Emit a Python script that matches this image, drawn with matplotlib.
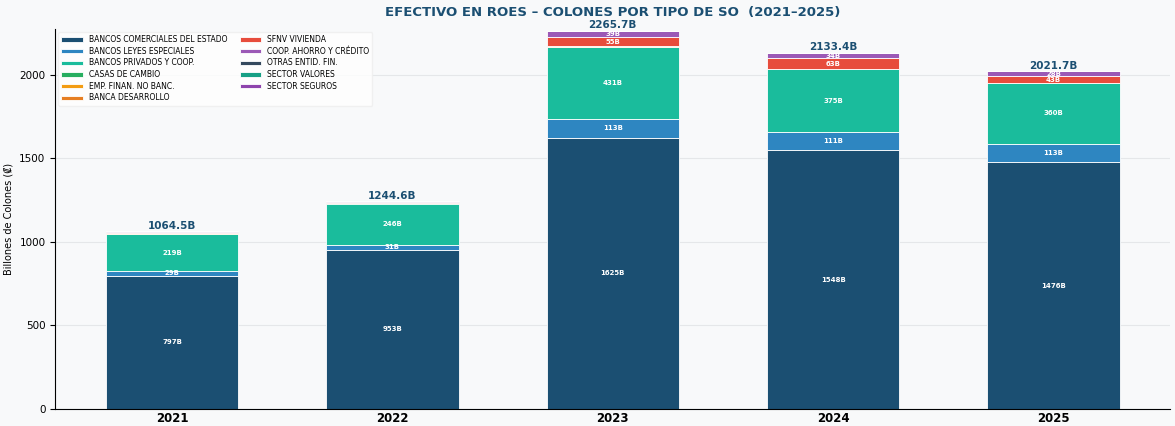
import numpy as np
import matplotlib.pyplot as plt

# Datos (billones de colones)
years = ['2021', '2022', '2023', '2024', '2025']
categories = ['BANCOS COMERCIALES DEL ESTADO', 'BANCOS LEYES ESPECIALES', 'BANCOS PRIVADOS Y COOP.',
              'CASAS DE CAMBIO', 'EMP. FINAN. NO BANC.', 'BANCA DESARROLLO', 'SFNV VIVIENDA',
              'COOP. AHORRO Y CRÉDITO', 'OTRAS ENTID. FIN.', 'SECTOR VALORES', 'SECTOR SEGUROS']
colors = ['#1b4f72', '#2e86c1', '#1abc9c', '#27ae60', '#f39c12', '#e67e22', '#e74c3c',
          '#9b59b6', '#34495e', '#16a085', '#8e44ad']

bancos_estado = [797, 953, 1625, 1548, 1476]
bancos_leyes = [29, 31, 113, 111, 113]
bancos_privados = [219, 246, 431, 375, 360]
casas_cambio = [4, 3, 1, 0.8, 0.6]
emp_finan = [1.5, 1, 0.5, 0.5, 0.4]
banca_desarrollo = [1, 0.8, 0.5, 0.5, 0.3]
sfnv_vivienda = [5, 3, 55, 63, 43]
coop_ahorro = [7, 6, 39, 34, 28]
otras_entid = [0.5, 0.4, 0.3, 0.3, 0.2]
sector_valores = [0.3, 0.2, 0.2, 0.2, 0.1]
sector_seguros = [0.2, 0.2, 0.2, 0.1, 0.1]
totales = [1064.5, 1244.6, 2265.7, 2133.4, 2021.7]

series = [bancos_estado, bancos_leyes, bancos_privados, casas_cambio, emp_finan, banca_desarrollo,
          sfnv_vivienda, coop_ahorro, otras_entid, sector_valores, sector_seguros]

fig, ax = plt.subplots(figsize=(11.75, 4.26), dpi=100)
fig.patch.set_facecolor('#f8f9fa')
ax.set_facecolor('#f8f9fa')
fig.subplots_adjust(left=0.047, right=0.996, bottom=0.04, top=0.932)

x = np.arange(len(years))
bottom = np.zeros(len(years))
for name, vals, col in zip(categories, series, colors):
    vals = np.array(vals, dtype=float)
    ax.bar(x, vals, 0.6, bottom=bottom, color=col, edgecolor='white', linewidth=0.6, label=name)
    for xi, b, v in zip(x, bottom, vals):
        if v >= 20:
            ax.text(xi, b + v / 2, f'{v:.0f}B', ha='center', va='center',
                    color='white', fontsize=5, fontweight='bold')
    bottom += vals

for xi, t in zip(x, totales):
    ax.text(xi, t + 2, f'{t:.1f}B', ha='center', va='bottom',
            color='#1b4f72', fontsize=7.5, fontweight='bold')

ax.set_xticks(x)
ax.set_xticklabels(years, fontsize=8.5, fontweight='bold')
ax.tick_params(axis='x', length=0, pad=2)
ax.tick_params(axis='y', labelsize=7.5)
ax.set_ylim(0, 2275)
ax.set_ylabel('Billones de Colones (₡)', fontsize=7)
ax.set_title('EFECTIVO EN ROES – COLONES POR TIPO DE SO  (2021–2025)',
             fontsize=9.5, fontweight='bold', color='#1b4f72', pad=9)
ax.yaxis.grid(True, color='#e5e7e9', linewidth=0.8)
ax.set_axisbelow(True)
ax.spines['top'].set_visible(False)
ax.spines['right'].set_visible(False)

leg = ax.legend(loc='upper left', ncol=2, fontsize=5.5, frameon=True, facecolor='white',
                edgecolor='#eeeeee', handlelength=2.8, handleheight=0.5,
                labelspacing=0.35, columnspacing=1.6, borderaxespad=0.4)

plt.savefig('out.png', dpi=100, facecolor=fig.get_facecolor())
